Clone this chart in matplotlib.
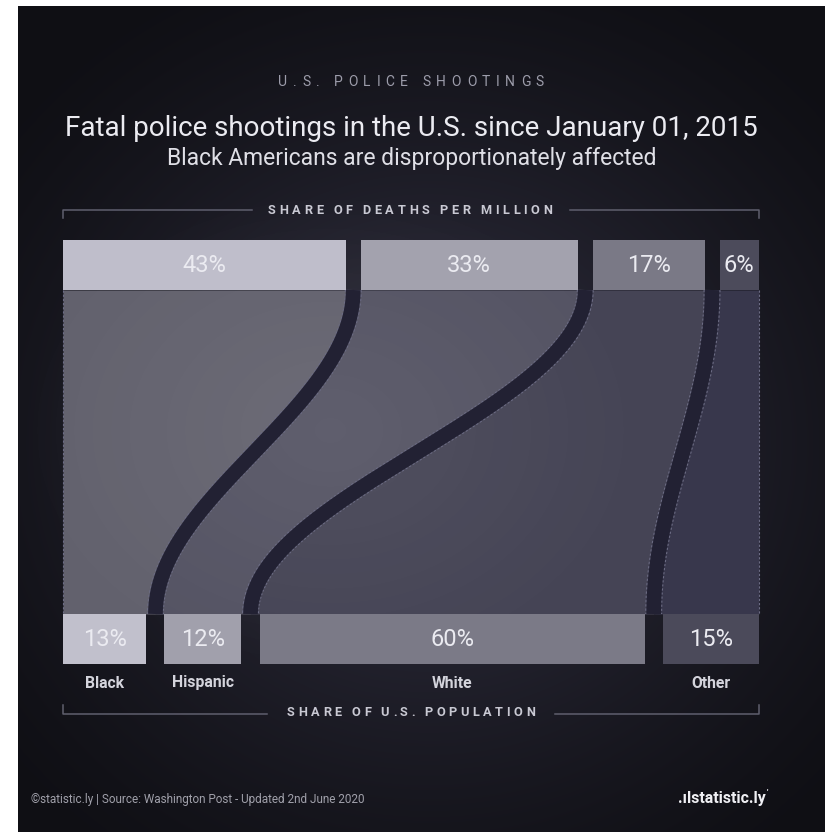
import numpy as np
import matplotlib
matplotlib.use("Agg")
import matplotlib.pyplot as plt
from matplotlib.font_manager import FontProperties

plt.rcParams["lines.scale_dashes"] = False

# ---------------- data ----------------
categories = ["Black", "Hispanic", "White", "Other"]
share_deaths_per_million = [43, 33, 17, 6]   # top bars (%)
share_population = [13, 12, 60, 15]          # bottom bars (%)
top_labels = ["43%", "33%", "17%", "6%"]
bottom_labels = ["13%", "12%", "60%", "15%"]

header = "U.S. POLICE SHOOTINGS"
title = "Fatal police shootings in the U.S. since January 01, 2015"
subtitle = "Black Americans are disproportionately affected"
top_axis_label = "SHARE OF DEATHS PER MILLION"
bottom_axis_label = "SHARE OF U.S. POPULATION"
footer = "\u00a9statistic.ly | Source: Washington Post - Updated 2nd June 2020"
logo = ".\u0131lstatistic.ly"

# ---------------- style / layout ----------------
W, H = 825, 832
CH_L, CH_R = 63, 759
TOP_Y0, BAR_H = 240, 50
BOT_Y0 = 614
GAP_TOP, GAP_BOT = 15, 18
bar_top_colors = ["#bfbecb", "#a3a2ae", "#7a7986", "#4c4b5b"]
bar_bot_colors = ["#c1c0cc", "#a1a0ac", "#7b7a87", "#4b4a5a"]
flow_colors = ["#62616d", "#545363", "#454455", "#38374c"]
gap_color = "#222133"
dash_color = "#6c6c84"
text_light = "#ebebf1"

fig = plt.figure(figsize=(W / 100, H / 100), dpi=100, facecolor="white")
ax = fig.add_axes([0, 0, 1, 1])
ax.set_xlim(0, W)
ax.set_ylim(H, 0)
ax.axis("off")

# background radial gradient
yy, xx = np.mgrid[0:H, 0:W]
r = np.sqrt(((xx - 420) / 560.0) ** 2 + ((yy - 440) / 520.0) ** 2)
t = np.clip(1 - r, 0, 1) ** 1.3
c_center = np.array([0.205, 0.20, 0.27])
c_edge = np.array([0.06, 0.06, 0.08])
bg = c_edge + (c_center - c_edge) * t[..., None]
ax.imshow(bg, extent=(18, W, H, 6), zorder=0, interpolation="bilinear", aspect="auto")


def layout(values, gap):
    avail = (CH_R - CH_L) - gap * (len(values) - 1)
    scale = avail / float(sum(values))
    widths = [v * scale for v in values]
    lefts = []
    x = CH_L
    for w in widths:
        lefts.append(x)
        x += w + gap
    return np.array(lefts), np.array(widths)


tl, tw = layout(share_deaths_per_million, GAP_TOP)
bl, bw = layout(share_population, GAP_BOT)

# flows
FY0, FY1 = TOP_Y0 + BAR_H, BOT_Y0
ys = np.linspace(FY0, FY1, 300)
s = (1 - np.cos(np.pi * (ys - FY0) / (FY1 - FY0))) / 2


def curve(xt, xb):
    return xt + (xb - xt) * s


bounds_top = [CH_L] + [tl[i] + tw[i] + GAP_TOP / 2 for i in range(3)] + [CH_R]
bounds_bot = [CH_L] + [bl[i] + bw[i] + GAP_BOT / 2 for i in range(3)] + [CH_R]
for i in range(4):
    xl = curve(bounds_top[i], bounds_bot[i])
    xr = curve(bounds_top[i + 1], bounds_bot[i + 1])
    ax.fill_betweenx(ys, xl, xr, color=flow_colors[i], lw=0, zorder=2)

# soft glow over flows
glow = np.zeros((H, W, 4))
glow[..., :3] = 1.0
rg = np.sqrt(((xx - 330) / 330.0) ** 2 + ((yy - 430) / 260.0) ** 2)
glow[..., 3] = 0.07 * np.clip(1 - rg, 0, 1)
ax.imshow(glow, extent=(0, W, H, 0), zorder=2.5, aspect="auto")

# gap curves
for i in range(1, 4):
    xc = curve(bounds_top[i], bounds_bot[i])
    ax.plot(xc, ys, color=dash_color, lw=12.2, ls=(0, (1.6, 1.4)), solid_capstyle="butt",
            dash_capstyle="butt", zorder=3)
    ax.plot(xc, ys, color=gap_color, lw=10.6, solid_capstyle="butt", zorder=3.1)
for xe in (CH_L, CH_R):
    ax.plot([xe, xe], [FY0, FY1], color=dash_color, lw=0.8, ls=(0, (1.6, 1.4)), zorder=3)

# bars
ax.bar(tl, BAR_H, width=tw, bottom=TOP_Y0, align="edge", color=bar_top_colors, lw=0, zorder=4)
ax.bar(bl, BAR_H, width=bw, bottom=BOT_Y0, align="edge", color=bar_bot_colors, lw=0, zorder=4)

for x0, w, lab in zip(tl, tw, top_labels):
    ax.text(x0 + w / 2, TOP_Y0 + BAR_H / 2 + 1, lab, ha="center", va="center",
            fontsize=17, family="Roboto", color=text_light, zorder=5)
for x0, w, lab, cat in zip(bl, bw, bottom_labels, categories):
    ax.text(x0 + w / 2, BOT_Y0 + BAR_H / 2 + 1, lab, ha="center", va="center",
            fontsize=17, family="Roboto", color=text_light, zorder=5)
    ax.text(x0 + w / 2, BOT_Y0 + BAR_H + 19, cat, ha="center", va="center",
            fontsize=11.3, family="Roboto", weight="bold", color="#d4d4dc", zorder=5)

renderer = fig.canvas.get_renderer()


def spaced_text(txt, cx, y, target_w, size, color, weight="normal"):
    fp = FontProperties(family="Roboto", size=size, weight=weight)
    ws = [renderer.get_text_width_height_descent(ch, fp, ismath=False)[0] for ch in txt]
    ws = [w if ch != " " else size * 0.3 for ch, w in zip(txt, ws)]
    sp = (target_w - sum(ws)) / (len(txt) - 1)
    x = cx - target_w / 2
    for ch, w in zip(txt, ws):
        ax.text(x, y, ch, ha="left", va="center", fontproperties=fp, color=color, zorder=6)
        x += w + sp


spaced_text(header, 411, 82, 266, 10, "#9d9dab")
ax.text(411.5, 128, title, ha="center", va="center", fontsize=20, family="Roboto",
        color=text_light, zorder=6)
ax.text(411.5, 159, subtitle, ha="center", va="center", fontsize=16.5, family="Roboto",
        color="#dfdfe6", zorder=6)

spaced_text(top_axis_label, 410, 210, 284, 9.2, "#c9c9d3", weight="bold")
spaced_text(bottom_axis_label, 411, 713, 248, 9.2, "#c9c9d3", weight="bold")

lc = "#5f5f6e"
# top bracket
ax.plot([CH_L, CH_L, 252], [218, 209.5, 209.5], color=lc, lw=1.1, zorder=5)
ax.plot([570, CH_R, CH_R], [209.5, 209.5, 218], color=lc, lw=1.1, zorder=5)
# bottom bracket
ax.plot([CH_L, CH_L, 267], [705, 714, 714], color=lc, lw=1.1, zorder=5)
ax.plot([555, CH_R, CH_R], [714, 714, 705], color=lc, lw=1.1, zorder=5)

ax.text(31, 799, footer, ha="left", va="center", fontsize=8.5, family="Roboto",
        color="#a0a0aa", zorder=6)
ax.text(766, 799, logo, ha="right", va="center", fontsize=11.5, family="Roboto",
        weight="bold", color="#f0f0f4", zorder=6)
ax.text(767, 792, "'", ha="left", va="center", fontsize=6, family="Roboto",
        weight="bold", color="#f0f0f4", zorder=6)

fig.savefig("out.png", dpi=100, facecolor="white")
